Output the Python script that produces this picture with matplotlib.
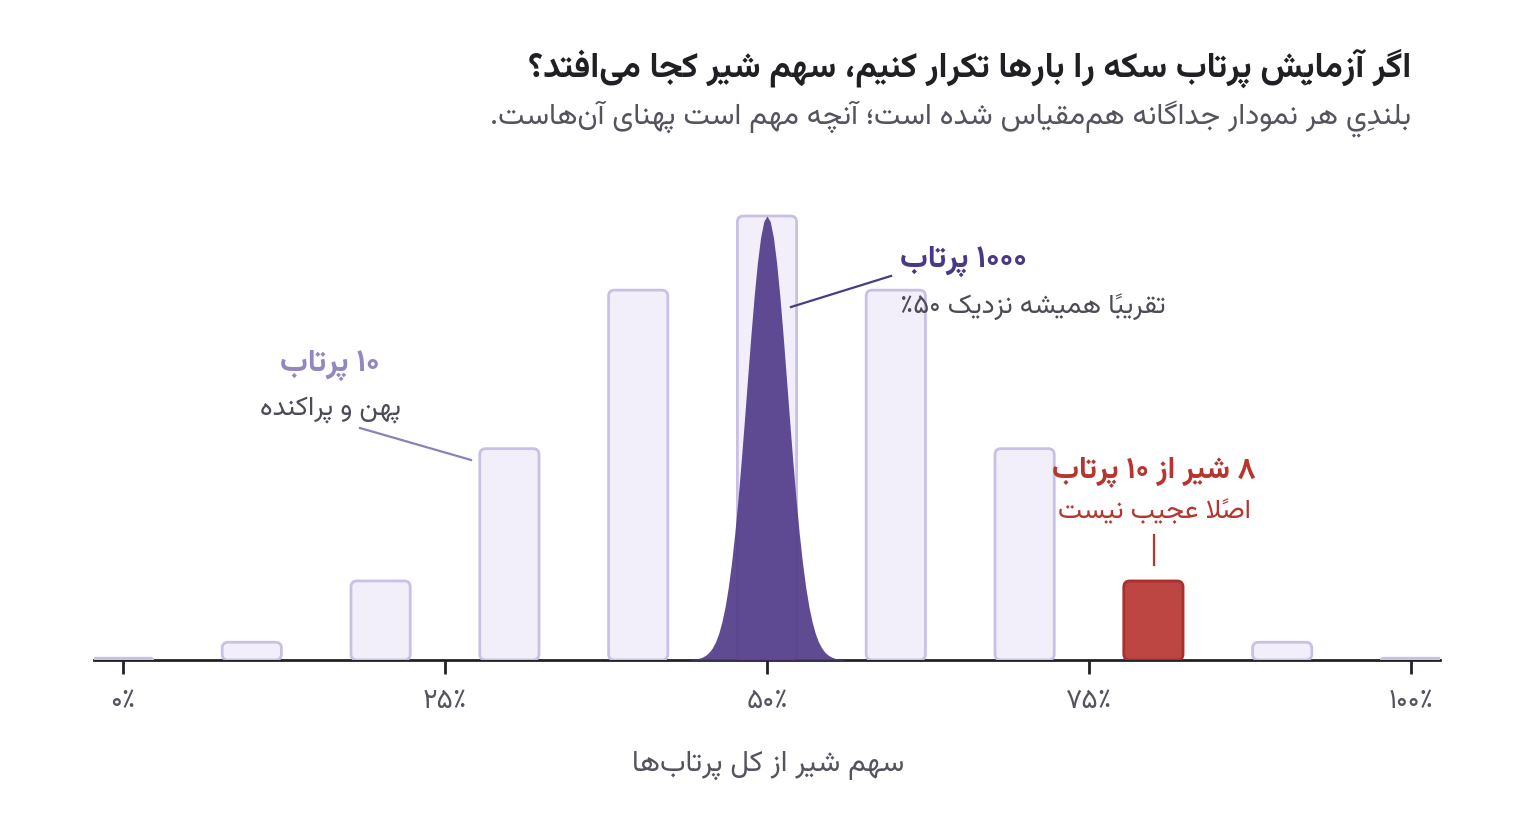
import matplotlib
matplotlib.use("Agg")
import matplotlib.pyplot as plt
import matplotlib.patheffects as pe
from matplotlib.patches import FancyBboxPatch
from matplotlib.font_manager import FontProperties, findfont

# persian shaping by hand: matplotlib draws glyphs one by one, left to right
DUAL = {"ب": 0xFE8F, "پ": 0xFB56, "ت": 0xFE95, "ث": 0xFE99, "ج": 0xFE9D, "چ": 0xFB7A,
        "ح": 0xFEA1, "خ": 0xFEA5, "س": 0xFEB1, "ش": 0xFEB5, "ص": 0xFEB9, "ض": 0xFEBD,
        "ط": 0xFEC1, "ظ": 0xFEC5, "ع": 0xFEC9, "غ": 0xFECD, "ف": 0xFED1, "ق": 0xFED5,
        "ک": 0xFB8E, "گ": 0xFB92, "ل": 0xFEDD, "م": 0xFEE1, "ن": 0xFEE5, "ه": 0xFEE9,
        "ی": 0xFBFC, "ي": 0xFEF1, "ئ": 0xFE89}
RIGHT = {"ا": 0xFE8D, "آ": 0xFE81, "أ": 0xFE83, "إ": 0xFE87, "د": 0xFEA9, "ذ": 0xFEAB,
         "ر": 0xFEAD, "ز": 0xFEAF, "ژ": 0xFB8A, "و": 0xFEED, "ؤ": 0xFE85, "ة": 0xFE93}
LAM_ALEF = {"ا": 0xFEFB, "آ": 0xFEF5, "أ": 0xFEF7, "إ": 0xFEF9}
MARKS = set(chr(c) for c in range(0x064B, 0x0653)) | {"\u0670"}


def fa(text):
    clusters = []
    for ch in text:
        if ch in MARKS and clusters:
            clusters[-1][1] += ch
        else:
            clusters.append([ch, ""])
    out = []
    i = 0
    while i < len(clusters):
        ch, mk = clusters[i]
        prev = clusters[i - 1][0] if i > 0 else ""
        nxt = clusters[i + 1][0] if i + 1 < len(clusters) else ""
        p = prev in DUAL and (ch in DUAL or ch in RIGHT)
        if ch == "ل" and nxt in LAM_ALEF:
            out.append([chr(LAM_ALEF[nxt] + (1 if p else 0)), mk + clusters[i + 1][1]])
            i += 2
            continue
        q = ch in DUAL and (nxt in DUAL or nxt in RIGHT)
        if ch in DUAL:
            ch = chr(DUAL[ch] + (3 if p and q else 1 if p else 2 if q else 0))
        elif ch in RIGHT:
            ch = chr(RIGHT[ch] + (1 if p else 0))
        if ch != "\u200c":
            out.append([ch, mk])
        i += 1
    # right to left, but digit runs keep their order
    runs = []
    for c in out:
        d = c[0].isdigit()
        if runs and runs[-1][0] == d:
            runs[-1][1].append(c)
        else:
            runs.append([d, [c]])
    s = ""
    for d, cl in reversed(runs):
        for b, m in (cl if d else cl[::-1]):
            s += b + m
    return s


FONT = "Vazirmatn"
# a real bold instance of the variable font if fontTools is there, else fake it with a stroke
try:
    from fontTools.ttLib import TTFont
    from fontTools.varLib import instancer
    vf = TTFont(findfont(FontProperties(family=FONT)))
    instancer.instantiateVariableFont(vf, {"wght": 700}, inplace=True)
    vf.save("vazirmatn_bold.ttf")
    BOLD = FontProperties(fname="vazirmatn_bold.ttf")
    FAKE = 0
except Exception:
    BOLD = FontProperties(family=FONT)
    FAKE = 1.0


def bold(size, color):
    fp = BOLD.copy()
    fp.set_size(size)
    fx = [pe.withStroke(linewidth=FAKE, foreground=color)] if FAKE else []
    return dict(fontproperties=fp, color=color, path_effects=fx)


# data
shares = [0.0, 0.1, 0.2, 0.3, 0.4, 0.5, 0.6, 0.7, 0.8, 0.9, 1.0]
heights_10 = [0.004, 0.04, 0.178, 0.476, 0.833, 1.0, 0.833, 0.476, 0.178, 0.04, 0.004]
highlight = 0.8
curve_x = [0.44, 0.4425, 0.445, 0.4475, 0.45, 0.4525, 0.455, 0.4575, 0.46, 0.4625, 0.465, 0.4675,
           0.47, 0.4725, 0.475, 0.4775, 0.48, 0.4825, 0.485, 0.4875, 0.49, 0.4925, 0.495, 0.4975,
           0.5, 0.5025, 0.505, 0.5075, 0.51, 0.5125, 0.515, 0.5175, 0.52, 0.5225, 0.525, 0.5275,
           0.53, 0.5325, 0.535, 0.5375, 0.54, 0.5425, 0.545, 0.5475, 0.55, 0.5525, 0.555, 0.5575, 0.56]
curve_y = [0.0007, 0.0013, 0.0023, 0.004, 0.0067, 0.0109, 0.0173, 0.0269, 0.0406, 0.0598, 0.086, 0.1205,
           0.1649, 0.2199, 0.286, 0.3628, 0.4488, 0.5415, 0.6372, 0.7313, 0.8185, 0.8934, 0.9512, 0.9876,
           1.0, 0.9876, 0.9512, 0.8934, 0.8185, 0.7313, 0.6372, 0.5415, 0.4488, 0.3628, 0.286, 0.2199,
           0.1649, 0.1205, 0.086, 0.0598, 0.0406, 0.0269, 0.0173, 0.0109, 0.0067, 0.004, 0.0023, 0.0013, 0.0007]
tick_vals = [0, 0.25, 0.5, 0.75, 1.0]
tick_labels = ["۰٪", "۲۵٪", "۵۰٪", "۷۵٪", "۱۰۰٪"]

title = "اگر آزمایشِ پرتاب سکه را بارها تکرار کنیم، سهم شیر کجا می‌افتد؟"
subtitle = "بلنديِ هر نمودار جداگانه هم‌مقیاس شده است؛ آنچه مهم است پهنای آن‌هاست."
xlabel = "سهم شیر از کل پرتاب‌ها"

INK = "#1F1F24"
GREY = "#4D4B55"
PURPLE = "#4B3787"
LILAC = "#9486C0"
RED = "#B8352F"

fig = plt.figure(figsize=(15.2, 8.4), dpi=100)
ax = fig.add_axes([94 / 1520, 180 / 840, 1346 / 1520, 488.4 / 840])
ax.set_xlim(-0.0225, 1.0225)
ax.set_ylim(0, 1.1)

bw = 0.046
rx = 6 / 1288
asp = 1288 / 444
for s, h in zip(shares, heights_10):
    red = abs(s - highlight) < 1e-9
    r = min(rx, h / asp / 2 + 0.0008)
    box = FancyBboxPatch((s - bw / 2, 0), bw, h,
                         boxstyle="round,pad=0,rounding_size=%f" % r, mutation_aspect=asp,
                         fc="#BD4542" if red else "#F2EFFA",
                         ec="#A9302E" if red else "#C9C0E6", lw=2.0, zorder=3)
    ax.add_patch(box)

ax.fill_between(curve_x, curve_y, 0, color="#533D8A", alpha=0.93, lw=0, zorder=4)

ax.spines[["top", "right", "left"]].set_visible(False)
ax.spines["bottom"].set_color("#222222")
ax.spines["bottom"].set_linewidth(2)
ax.set_yticks([])
ax.set_xticks(tick_vals)
ax.set_xticklabels(tick_labels, family=FONT, fontsize=20, color="#55535E")
ax.tick_params(axis="x", length=10, width=2, color="#222222", pad=9.5)

fig.text(768 / 1520, 1 - 765 / 840, fa(xlabel), ha="center", va="center", family=FONT,
         fontsize=21, color="#55535E")

fig.text(1411 / 1520, 1 - 68 / 840, fa(title), ha="right", va="center", **bold(24.9, INK))
fig.text(1411 / 1520, 1 - 119 / 840, fa(subtitle), ha="right", va="center", family=FONT,
         fontsize=21.4, color="#55535E")

# annotations
ax.plot([0.5186, 0.5963], [0.795, 0.865], color="#4B3A86", lw=1.6, zorder=5)
ax.text(0.6033, 0.897, fa("۱۰۰۰ پرتاب"), ha="left", va="center", **bold(22.4, PURPLE))
ax.text(0.6033, 0.797, fa("تقریباً همیشه نزدیک ۵۰٪"), ha="left", va="center", family=FONT,
        fontsize=19.5, color=GREY)

ax.plot([0.184, 0.2702], [0.5225, 0.4505], color="#8D80B8", lw=1.6, zorder=5)
ax.text(0.1607, 0.664, fa("۱۰ پرتاب"), ha="center", va="center", **bold(22.4, LILAC))
ax.text(0.1607, 0.561, fa("پهن و پراکنده"), ha="center", va="center", family=FONT,
        fontsize=19.5, color=GREY)

ax.plot([0.8005, 0.8005], [0.2815, 0.214], color=RED, lw=1.6, zorder=5)
ax.text(0.8005, 0.424, fa("۸ شیر از ۱۰ پرتاب"), ha="center", va="center", **bold(21.7, RED))
ax.text(0.8005, 0.335, fa("اصلاً عجیب نیست"), ha="center", va="center", family=FONT,
        fontsize=19.5, color=RED)

fig.savefig("out.png")
